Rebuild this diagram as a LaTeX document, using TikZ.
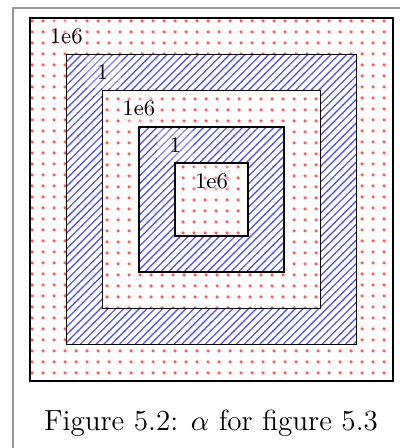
\documentclass[tikz,border=0pt]{standalone}
\usetikzlibrary{patterns.meta}
\tikzdeclarepattern{
  name=bigdots, type=uncolored,
  bottom left={(-1.2pt,-1.2pt)}, top right={(2.95pt,2.95pt)},
  tile size={(4.15pt,4.15pt)},
  code={\fill (0pt,0pt) circle [radius=0.7pt];}
}
\tikzdeclarepattern{
  name=nehatch, type=uncolored,
  bottom left={(-0.2pt,-0.2pt)}, top right={(3.2pt,3.2pt)},
  tile size={(3pt,3pt)},
  code={\draw[line width=0.45pt] (-0.2pt,-0.2pt) -- (3.2pt,3.2pt);}
}
\begin{document}
\begin{tikzpicture}[x=0.3846pt,y=-0.3846pt,
  dotsq/.style={draw=black,line width=0.55pt,preaction={fill=white},pattern=bigdots,pattern color=red!65},
  hatchsq/.style={draw=black,line width=0.55pt,preaction={fill=white},pattern=nehatch,pattern color=blue!70},
  lab/.style={font=\fontsize{8.5}{10}\selectfont,fill=white,fill opacity=0.3,text opacity=1,minimum width=13.8pt,minimum height=12.3pt,inner sep=0pt}]
\useasboundingbox (0,0) rectangle (400,448);
\draw[gray!80,line width=0.4pt] (13,460) -- (13,8) -- (410,8);
\def\u{36.3}
\foreach \n/\st in {5/dotsq,4/hatchsq,3/dotsq,2/hatchsq,1/dotsq}{
  \draw[\st] ({211.5-\n*\u},{199.5-\n*\u}) rectangle ({211.5+\n*\u},{199.5+\n*\u});
}
\foreach \n/\t in {5/1e6,4/1,3/1e6,2/1,1/1e6}{
  \node[lab] (l\n) at ({211.5-\n*\u+\u},{199.5-\n*\u+18}) {\t};
}
\node[anchor=base,inner sep=0pt,font=\fontsize{11.2}{13}\selectfont] (cap) at (211,430) {Figure 5.2: $\alpha$ for figure 5.3};
\end{tikzpicture}
\end{document}
